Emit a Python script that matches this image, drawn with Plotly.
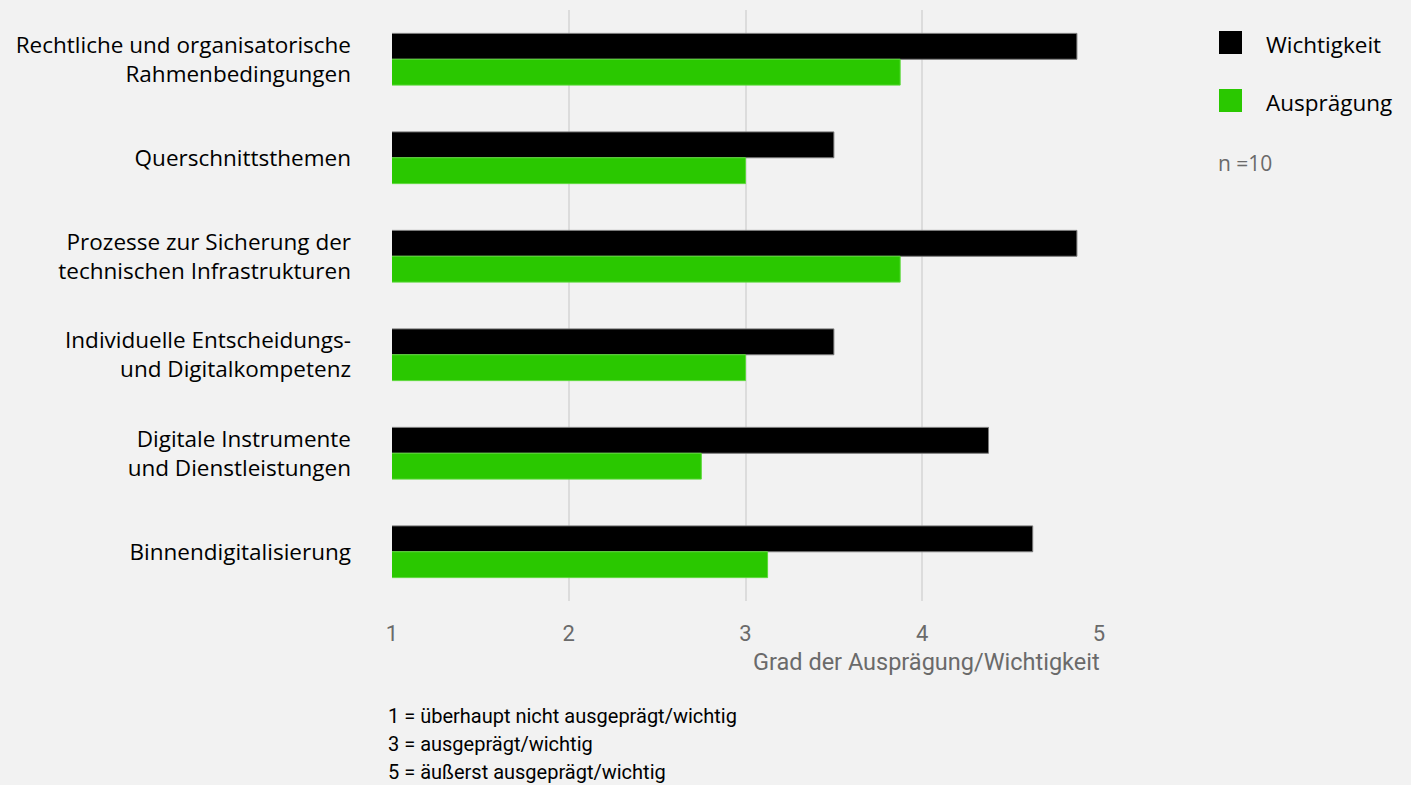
import plotly.graph_objects as go

# Kategorien (von oben nach unten)
categories = [
    "Rechtliche und organisatorische<br>Rahmenbedingungen",
    "Querschnittsthemen",
    "Prozesse zur Sicherung der<br>technischen Infrastrukturen",
    "Individuelle Entscheidungs-<br>und Digitalkompetenz",
    "Digitale Instrumente<br>und Dienstleistungen",
    "Binnendigitalisierung",
]
wichtigkeit = [4.875, 3.5, 4.875, 3.5, 4.375, 4.625]
auspraegung = [3.875, 3.0, 3.875, 3.0, 2.75, 3.125]
tick_values = [1, 2, 3, 4, 5]
tick_labels = ["1", "2", "3", "4", "5"]
series_names = ["Wichtigkeit", "Ausprägung"]
series_colors = ["#000000", "#2ac800"]
footnotes = [
    "1 = überhaupt nicht ausgeprägt/wichtig",
    "3 = ausgeprägt/wichtig",
    "5 = äußerst ausgeprägt/wichtig",
]
sample_note = "n =10"
axis_title = "Grad der Ausprägung/Wichtigkeit"

BG = "#f2f2f2"
FONT = "'Open Sans', Roboto, sans-serif"
NARROW = "Roboto, sans-serif"

fig = go.Figure()
fig.add_trace(go.Bar(
    y=categories, x=wichtigkeit, orientation="h", name=series_names[0],
    marker=dict(color=series_colors[0], line=dict(color="#7a7a7a", width=1)),
))
fig.add_trace(go.Bar(
    y=categories, x=auspraegung, orientation="h", name=series_names[1],
    marker=dict(color=series_colors[1], line=dict(color="#5cd83a", width=1)),
))

W, H = 1411, 785
L, R, T, B = 392, 312, 10, 184
pw = W - L - R
ph = H - T - B

def px_x(p):
    return (p - L) / pw

fig.update_layout(
    width=W, height=H,
    margin=dict(l=L, r=R, t=T, b=B, pad=0),
    paper_bgcolor=BG, plot_bgcolor=BG,
    barmode="group", bargap=0.475, bargroupgap=0,
    showlegend=False,
    font=dict(family=FONT, color="#000000"),
    xaxis=dict(
        range=[1, 5], tickvals=tick_values, ticktext=tick_labels,
        showgrid=True, gridcolor="#dcdcdc", gridwidth=2,
        zeroline=False, showline=False,
        tickfont=dict(family=NARROW, size=22, color="#6a6a6a"),
        ticklabelstandoff=17, fixedrange=True,
    ),
    yaxis=dict(
        categoryorder="array", categoryarray=categories, autorange="reversed",
        showgrid=False, zeroline=False, showline=False,
        tickfont=dict(family=FONT, size=22.5, color="#000000"),
        ticklabelstandoff=40, fixedrange=True,
    ),
)

annotations = []
# Achsentitel
annotations.append(dict(
    x=1, y=0, xref="paper", yref="paper", xanchor="right", yanchor="middle",
    xshift=3, yshift=-(662 - (T + ph)), text=axis_title, showarrow=False,
    font=dict(family=NARROW, size=23.5, color="#6a6a6a"),
))
# Skalenerläuterung
for i, line in enumerate(footnotes):
    annotations.append(dict(
        x=px_x(386), y=0, xref="paper", yref="paper", xanchor="left", yanchor="middle",
        yshift=-(716 + 28 * i - (T + ph)), text=line, showarrow=False,
        font=dict(family=NARROW, size=20, color="#000000"),
    ))

# Legende
shapes = []
legend_y = [42.5, 100.5]
for name, color, cy in zip(series_names, series_colors, legend_y):
    shapes.append(dict(
        type="rect", xref="paper", yref="paper",
        x0=px_x(1219), x1=px_x(1242),
        y0=1 - (cy - 11.5 - T) / ph, y1=1 - (cy + 11.5 - T) / ph,
        fillcolor=color, line=dict(width=0),
    ))
    annotations.append(dict(
        x=px_x(1264), y=1 - (cy + 2 - T) / ph, xref="paper", yref="paper",
        xanchor="left", yanchor="middle", text=name, showarrow=False,
        font=dict(family=FONT, size=22.5, color="#000000"),
    ))
annotations.append(dict(
    x=px_x(1216), y=1 - (163 - T) / ph, xref="paper", yref="paper",
    xanchor="left", yanchor="middle", text=sample_note, showarrow=False,
    font=dict(family=FONT, size=21, color="#6a6a6a"),
))

fig.update_layout(annotations=annotations, shapes=shapes)
fig.write_html("out.html")
